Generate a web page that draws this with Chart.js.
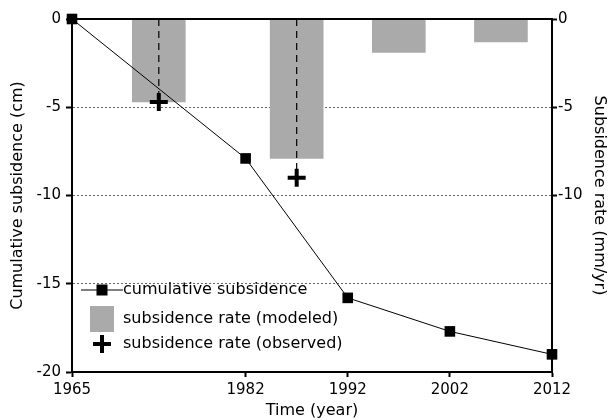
<!DOCTYPE html>
<html>
<head>
<meta charset="utf-8">
<script src="https://cdn.jsdelivr.net/npm/chart.js@4.4.1/dist/chart.umd.min.js"></script>
<style>
  html, body { margin: 0; padding: 0; background: #fff; }
  #wrap { width: 609px; height: 420px; }
</style>
</head>
<body>
<div id="wrap"><canvas id="subsChart" width="609" height="420"></canvas></div>
<script>
// values
const years = [1965, 1982, 1992, 2002, 2012];
const cumulative = [0, -7.9, -15.8, -17.7, -19.0];          // cm
const rateYears = [1973.5, 1987, 1997, 2007];
const rateModeled = [-4.7, -7.9, -1.9, -1.3];                // mm/yr
const obsYears = [1973.5, 1987];
const rateObserved = [-4.7, -9.0];                           // mm/yr
const xTicks = [1965, 1982, 1992, 2002, 2012];
const leftTicks = [0, -5, -10, -15, -20];
const rightTicks = [0, -5, -10];

const legendItems = ['cumulative subsidence', 'subsidence rate (modeled)', 'subsidence rate (observed)'];

const FONT = '"DejaVu Sans", "Liberation Sans", Arial, sans-serif';
Chart.defaults.font.family = FONT;
Chart.defaults.color = '#000';

const toPts = (xs, ys) => xs.map((x, i) => ({ x: x, y: ys[i] }));

// dashed drop lines from the top axis to each observed rate
const dropLines = obsYears.map((x, i) => ({
    type: 'line',
    data: [{ x: x, y: 0 }, { x: x, y: rateObserved[i] }],
    yAxisID: 'y2',
    borderColor: '#000',
    borderWidth: 1.2,
    borderDash: [7, 5],
    pointRadius: 0,
    order: 3
}));

// frame top line + legend drawn inside the plot
const framePlugin = {
    id: 'frameAndLegend',
    afterDraw(chart) {
        const ctx = chart.ctx;
        const ca = chart.chartArea;
        ctx.save();
        ctx.strokeStyle = '#000';
        ctx.lineWidth = 2;
        ctx.beginPath();
        ctx.moveTo(ca.left - 1, ca.top);
        ctx.lineTo(ca.right + 1, ca.top);
        ctx.stroke();

        const lx = ca.left + 30;     // marker centre
        const tx = ca.left + 51;     // text start
        const rows = [ca.bottom - 82, ca.bottom - 53, ca.bottom - 28];
        ctx.font = '16px ' + FONT;
        ctx.fillStyle = '#000';
        ctx.textBaseline = 'middle';

        // row 1: line with square
        ctx.lineWidth = 1;
        ctx.beginPath();
        ctx.moveTo(lx - 21, rows[0]);
        ctx.lineTo(lx + 21, rows[0]);
        ctx.stroke();
        ctx.fillRect(lx - 5.5, rows[0] - 5.5, 11, 11);
        ctx.fillText(legendItems[0], tx, rows[0]);

        // row 2: grey box
        ctx.fillStyle = '#aaaaaa';
        ctx.fillRect(lx - 12, rows[1] - 13, 24, 26);
        ctx.fillStyle = '#000';
        ctx.fillText(legendItems[1], tx, rows[1]);

        // row 3: plus
        ctx.lineWidth = 4;
        ctx.beginPath();
        ctx.moveTo(lx - 9, rows[2]);
        ctx.lineTo(lx + 9, rows[2]);
        ctx.moveTo(lx, rows[2] - 9);
        ctx.lineTo(lx, rows[2] + 9);
        ctx.stroke();
        ctx.fillText(legendItems[2], tx, rows[2]);
        ctx.restore();
    }
};

const dotGrid = (c) => [-5, -10, -15].includes(c.tick.value) ? '#666' : 'rgba(0,0,0,0)';

new Chart(document.getElementById('subsChart').getContext('2d'), {
    type: 'line',
    data: {
        datasets: [
            {
                type: 'bar',
                label: 'subsidence rate (modeled)',
                data: toPts(rateYears, rateModeled),
                yAxisID: 'y2',
                backgroundColor: '#aaaaaa',
                borderWidth: 0,
                barThickness: 53,
                order: 4
            },
            ...dropLines,
            {
                type: 'line',
                label: 'cumulative subsidence',
                data: toPts(years, cumulative),
                yAxisID: 'y',
                borderColor: '#000',
                borderWidth: 1,
                pointStyle: 'rect',
                pointRadius: 7.5,
                pointBackgroundColor: '#000',
                pointBorderColor: '#000',
                pointBorderWidth: 0,
                tension: 0,
                clip: false,
                order: 2
            },
            {
                type: 'line',
                label: 'subsidence rate (observed)',
                data: toPts(obsYears, rateObserved),
                yAxisID: 'y2',
                showLine: false,
                pointStyle: 'cross',
                pointRadius: 9,
                pointBorderWidth: 4,
                pointBorderColor: '#000',
                clip: false,
                order: 1
            }
        ]
    },
    options: {
        responsive: false,
        animation: false,
        layout: { padding: { top: 19, left: 0, right: 0, bottom: 0 } },
        plugins: {
            legend: { display: false },
            tooltip: { enabled: false }
        },
        scales: {
            x: {
                type: 'linear',
                min: 1965,
                max: 2012,
                offset: false,
                afterBuildTicks: s => { s.ticks = xTicks.map(v => ({ value: v })); },
                afterFit: s => { s.height = 48; },
                ticks: { font: { size: 15 }, padding: 4, maxRotation: 0, callback: v => String(v) },
                grid: { drawOnChartArea: false, drawTicks: true, tickLength: 5, tickColor: '#000', tickWidth: 2, offset: false },
                border: { display: true, color: '#000', width: 2 },
                title: { display: true, text: 'Time (year)', font: { size: 16 }, padding: { top: 0, bottom: 0 } }
            },
            y: {
                position: 'left',
                min: -20,
                max: 0,
                afterBuildTicks: s => { s.ticks = leftTicks.map(v => ({ value: v })); },
                afterFit: s => { s.width = 72; },
                ticks: { font: { size: 15 }, padding: 5 },
                grid: { color: dotGrid, lineWidth: 1, drawTicks: true, tickLength: 6, tickColor: '#000', tickWidth: 2, tickBorderDash: [] },
                border: { display: true, color: '#000', width: 2, dash: [2, 2] },
                title: { display: true, text: 'Cumulative subsidence (cm)', font: { size: 16 }, padding: { top: 8, bottom: 0 } }
            },
            y2: {
                position: 'right',
                min: -20,
                max: 0,
                afterBuildTicks: s => { s.ticks = rightTicks.map(v => ({ value: v })); },
                afterFit: s => { s.width = 57; },
                ticks: { font: { size: 15 }, padding: 1 },
                grid: { drawOnChartArea: false, drawTicks: true, tickLength: 5, tickColor: '#000', tickWidth: 2 },
                border: { display: true, color: '#000', width: 2 },
                title: { display: true, text: 'Subsidence rate (mm/yr)', font: { size: 16 }, padding: { top: 0, bottom: 0 } }
            }
        }
    },
    plugins: [framePlugin]
});
</script>
</body>
</html>
